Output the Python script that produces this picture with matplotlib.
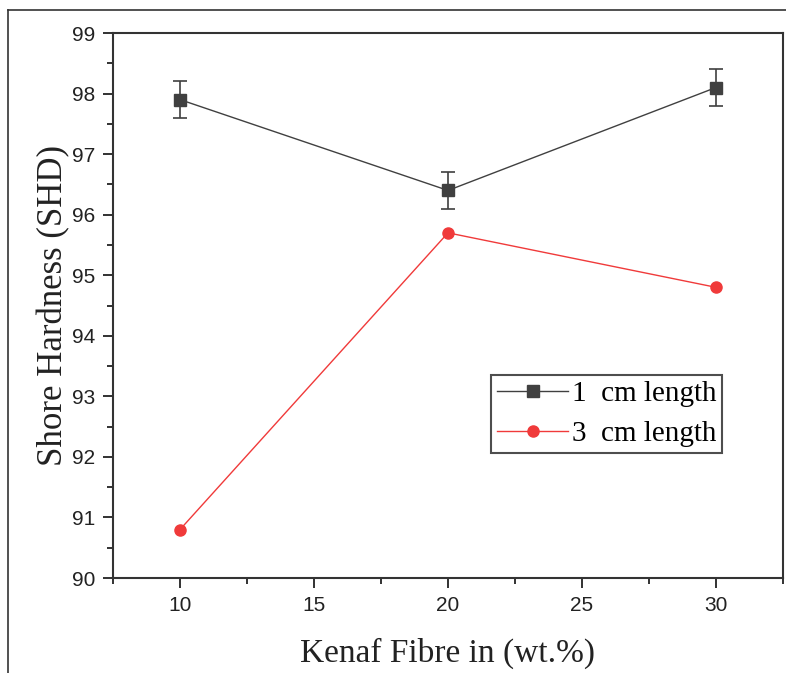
import matplotlib
matplotlib.use("Agg")
import matplotlib.pyplot as plt
from matplotlib.lines import Line2D
from matplotlib.ticker import MultipleLocator

fibre_wt = [10, 20, 30]
hard_1cm = [97.9, 96.4, 98.1]
err_1cm = [0.3, 0.3, 0.3]
hard_3cm = [90.8, 95.7, 94.8]
labels = ["1  cm length", "3  cm length"]

serif = ["Liberation Serif", "DejaVu Serif"]
sans = ["Liberation Sans", "DejaVu Sans"]

c1 = "#404040"
c3 = "#f03a3a"

fig = plt.figure(figsize=(7.86, 6.73), dpi=100)
ax = fig.add_axes([113/786, 1-578/673, (783-113)/786, (578-33)/673])

ax.errorbar(fibre_wt, hard_1cm, yerr=err_1cm, color=c1, marker="s",
            markersize=8, lw=1.0, elinewidth=1.2, capsize=5, capthick=1.2)
ax.plot(fibre_wt, hard_3cm, color=c3, marker="o", markersize=8, lw=1.0)

ax.set_xlim(7.5, 32.5)
ax.set_ylim(90, 99)
ax.xaxis.set_major_locator(MultipleLocator(5))
ax.xaxis.set_minor_locator(MultipleLocator(2.5))
ax.yaxis.set_major_locator(MultipleLocator(1))
ax.yaxis.set_minor_locator(MultipleLocator(0.5))
ax.tick_params(which="major", direction="out", length=7, width=1.3,
               labelsize=15, pad=6, colors="#222222")
ax.tick_params(which="minor", direction="out", length=4, width=1.3,
               colors="#222222")
for lab in ax.get_xticklabels() + ax.get_yticklabels():
    lab.set_family(sans)
for sp in ax.spines.values():
    sp.set_linewidth(1.5)
    sp.set_color("#333333")

ax.set_xlabel("Kenaf Fibre in (wt.%)", fontsize=24, family=serif,
              color="#222222", labelpad=16)
ax.set_ylabel("Shore Hardness (SHD)", fontsize=25, family=serif,
              color="#222222", labelpad=1)

handles = [Line2D([], [], color=c1, marker="s", markersize=8, lw=1.0),
           Line2D([], [], color=c3, marker="o", markersize=8, lw=1.0)]
leg = ax.legend(handles, labels, loc="upper left",
                bbox_to_anchor=((491-113)/670, (578-375)/545),
                prop={"family": serif, "size": 21}, frameon=True, fancybox=False,
                edgecolor="#222222", handlelength=2.45, borderpad=0.2,
                labelspacing=0.45, handletextpad=0.12, borderaxespad=0)
leg.get_frame().set_linewidth(1.5)

# outer frame lines
fig.add_artist(Line2D([8/786, 8/786], [0, 1-10/673], transform=fig.transFigure,
                      color="#333333", lw=1.2))
fig.add_artist(Line2D([8/786, 1], [1-10/673, 1-10/673], transform=fig.transFigure,
                      color="#333333", lw=1.2))

fig.savefig("out.png", dpi=100)
